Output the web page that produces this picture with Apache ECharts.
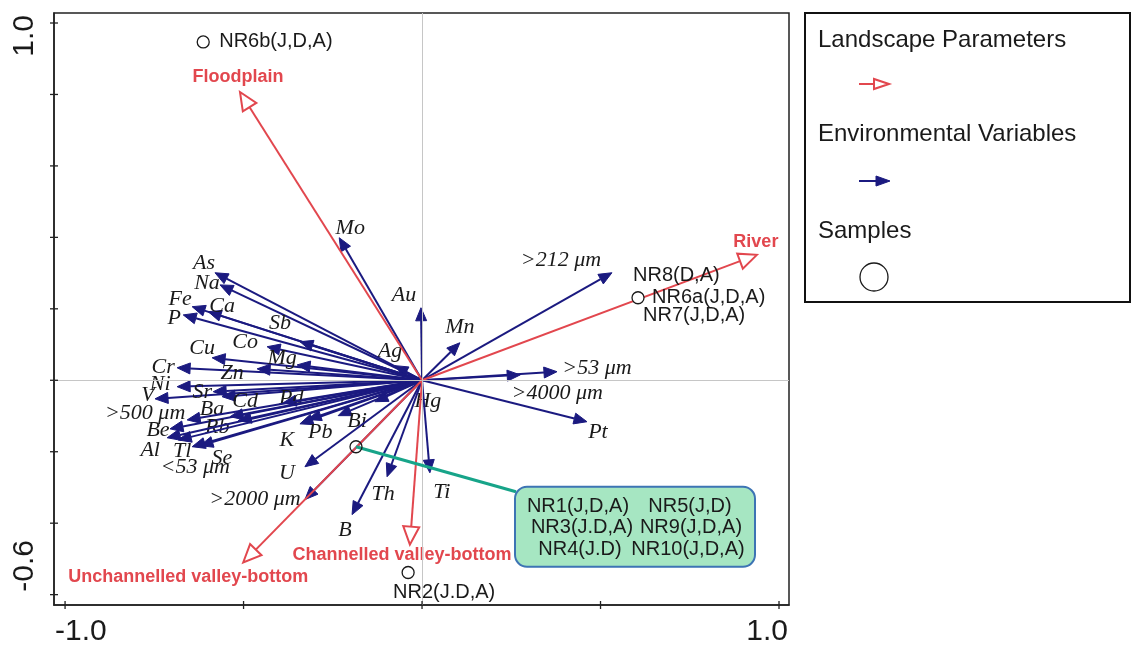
<!DOCTYPE html>
<html>
<head>
<meta charset="utf-8">
<script src="https://cdn.jsdelivr.net/npm/echarts@6/dist/echarts.min.js"></script>
<style>
  html, body { margin: 0; padding: 0; background: #fff; }
  #chart { width: 1133px; height: 647px; }
</style>
</head>
<body>
<div id="chart"></div>
<script>
// Landscape parameters (hollow red arrows)
const landNames = ['Floodplain', 'River', 'Unchannelled valley-bottom', 'Channelled valley-bottom'];
const landX = [-0.510, 0.938, -0.501, -0.034];
const landY = [0.807, 0.351, -0.510, -0.460];

// Environmental variables (filled blue arrows)
const envNames = ['Mo', 'Au', 'Ag', 'Hg', 'Mn', '>212 \u03bcm', '>53 \u03bcm', '>4000 \u03bcm', 'Pt',
  'As', 'Na', 'Fe', 'Ca', 'P', 'Sb', 'Cu', 'Co', 'Mg', 'Cr', 'Zn', 'Ni', 'V', 'Sr', 'Cd', 'Pd',
  'Ba', '>500 \u03bcm', 'Be', 'Rb', 'Al', 'Tl', 'Se', '<53 \u03bcm', 'K', 'Pb', 'Bi', 'U',
  '>2000 \u03bcm', 'Th', 'B', 'Ti'];
const envX = [-0.232, -0.003, -0.076, -0.132, 0.106, 0.532, 0.378, 0.275, 0.462,
  -0.580, -0.566, -0.644, -0.599, -0.669, -0.342, -0.588, -0.434, -0.350, -0.686, -0.462, -0.686, -0.748, -0.585, -0.560, -0.389,
  -0.538, -0.658, -0.706, -0.515, -0.714, -0.644, -0.622, -0.683, -0.342, -0.319, -0.235, -0.328,
  -0.328, -0.098, -0.196, 0.022];
const envY = [0.399, 0.203, 0.041, -0.060, 0.105, 0.301, 0.024, 0.015, -0.116,
  0.301, 0.267, 0.206, 0.192, 0.183, 0.108, 0.063, 0.094, 0.043, 0.035, 0.032, -0.018, -0.052, -0.032, -0.046, -0.063,
  -0.102, -0.111, -0.136, -0.113, -0.161, -0.186, -0.183, -0.167, -0.122, -0.110, -0.099, -0.242,
  -0.334, -0.270, -0.376, -0.259];

// Samples (open circles)
const sampleNames = ['NR6b', 'NR6a', 'NR2', 'NR1'];
const sampleX = [-0.613, 0.605, -0.039, -0.185];
const sampleY = [0.947, 0.231, -0.538, -0.186];
const sampleText = [
  ['NR6b(J,D,A)'],
  ['NR8(D,A)', 'NR6a(J,D,A)', 'NR7(J,D,A)'],
  ['NR2(J.D,A)'],
  ['NR1(J,D,A)', 'NR5(J,D)', 'NR3(J.D,A)', 'NR9(J,D,A)', 'NR4(J.D)', 'NR10(J,D,A)']
];

// Axis ticks and labelled ticks
const xTicks = [-1.0, -0.5, 0, 0.5, 1.0];
const yTicks = [-0.6, -0.4, -0.2, 0, 0.2, 0.4, 0.6, 0.8, 1.0];
const xTickLabels = ['-1.0', '1.0'];
const xTickLabelValues = [-1.0, 1.0];
const yTickLabels = ['1.0', '-0.6'];
const yTickLabelValues = [1.0, -0.6];

const X_MIN = -1.031, X_MAX = 1.028, Y_MIN = -0.629, Y_MAX = 1.028;

// ---- layout: label offsets in pixels from arrow tips ----
const landLabelOff = [[-2, -15], [-1, -13], [-55, 15], [-8, 10]];
const envLabelOff = [[11, -10], [-17, -13], [-5, -14], [53, 0], [0, -16], [-51, -13], [40, -3], [37, 18], [11, 10],
  [-11, -10], [-13, -2], [-12, -7], [14, -5], [-9, 3], [-20, -18], [-10, -10], [-22, -4], [-15, -7], [-14, -1], [-25, 4], [-17, -2], [-7, -4], [-11, 1], [23, 5], [8, -5],
  [-18, -7], [-42, -7], [-12, 1], [-21, 7], [-17, 12], [-10, 4], [22, 13], [17, 27], [-13, 16], [12, 13], [19, 6], [-18, 6],
  [-50, 0], [-4, 17], [-7, 16], [12, 19]];
// sample text lines: [dx, dy, align] per line
const sampleTextPos = [
  [[16, 0, 'left']],
  [[-5, -22, 'left'], [14, 0, 'left'], [5, 18, 'left']],
  [[36, 20, 'center']],
  [[222, 60, 'center'], [334, 60, 'center'], [226, 81, 'center'], [335, 81, 'center'], [224, 103, 'center'], [332, 103, 'center']]
];
const calloutBox = { dx: 159, dy: 40, w: 240, h: 80 };

const RED = '#e2474e';
const BLUE = '#1b1a80';
const INK = '#1a1a1a';
const serifItalic = 'italic 22px "Liberation Serif", "DejaVu Serif", serif';

function arrowRenderer(color, headLen, headHalf, hollow, labels, offsets, labelFont) {
  return function (params, api) {
    const p0 = api.coord([0, 0]);
    const p1 = api.coord([api.value(0), api.value(1)]);
    const dx = p1[0] - p0[0], dy = p1[1] - p0[1];
    const len = Math.hypot(dx, dy) || 1;
    const ux = dx / len, uy = dy / len;
    const bx = p1[0] - ux * headLen, by = p1[1] - uy * headLen;
    const head = [
      [p1[0], p1[1]],
      [bx - uy * headHalf, by + ux * headHalf],
      [bx + uy * headHalf, by - ux * headHalf]
    ];
    const off = offsets[params.dataIndex];
    return {
      type: 'group',
      children: [
        { type: 'line', shape: { x1: p0[0], y1: p0[1], x2: bx, y2: by },
          style: { stroke: color, lineWidth: 2 } },
        { type: 'polygon', shape: { points: head },
          style: { fill: hollow ? '#fff' : color, stroke: color, lineWidth: hollow ? 2 : 1, lineJoin: 'miter' } },
        { type: 'text', x: p1[0] + off[0], y: p1[1] + off[1],
          style: { text: labels[params.dataIndex], font: labelFont, fill: hollow ? RED : INK,
                   textAlign: 'center', textVerticalAlign: 'middle' } }
      ]
    };
  };
}

function sampleRenderer(params, api) {
  const i = params.dataIndex;
  const p = api.coord([api.value(0), api.value(1)]);
  const children = [];
  if (i === 3) {
    const b = calloutBox;
    children.push({ type: 'line', shape: { x1: p[0], y1: p[1], x2: p[0] + b.dx + 1, y2: p[1] + b.dy + 5 },
      style: { stroke: '#17a489', lineWidth: 3 } });
    children.push({ type: 'rect', shape: { x: p[0] + b.dx, y: p[1] + b.dy, width: b.w, height: b.h, r: 12 },
      style: { fill: '#a6e6c2', stroke: '#3d74b4', lineWidth: 2 } });
  }
  children.push({ type: 'circle', shape: { cx: p[0], cy: p[1], r: 6 },
    style: { fill: i === 3 ? 'transparent' : '#fff', stroke: INK, lineWidth: 1.3 } });
  sampleText[i].forEach(function (t, k) {
    const pos = sampleTextPos[i][k];
    children.push({ type: 'text', x: p[0] + pos[0], y: p[1] + pos[1],
      style: { text: t, font: '20px "Liberation Sans", Arial, sans-serif',
               fill: INK, textAlign: pos[2], textVerticalAlign: 'middle' } });
  });
  return { type: 'group', children: children };
}

// Tick marks crossing the left and bottom frame lines
function tickRenderer(params, api) {
  const p = api.coord([api.value(0), api.value(1)]);
  const vertical = api.value(2) === 0;
  return {
    type: 'line',
    shape: vertical ? { x1: p[0], y1: p[1] - 4, x2: p[0], y2: p[1] + 4 }
                    : { x1: p[0] - 4, y1: p[1], x2: p[0] + 4, y2: p[1] },
    style: { stroke: '#222', lineWidth: 1.3 }
  };
}

const chart = echarts.init(document.getElementById('chart'), null, { renderer: 'canvas' });

chart.setOption({
  animation: false,
  backgroundColor: '#fff',
  grid: { left: 54, right: 344, top: 13, bottom: 42, show: true, borderColor: '#222', borderWidth: 1.5, backgroundColor: 'transparent' },
  xAxis: {
    type: 'value', min: X_MIN, max: X_MAX,
    splitLine: { show: false }, axisLabel: { show: false }, axisTick: { show: false },
    axisLine: { show: true, onZero: false, lineStyle: { color: '#222', width: 1.5 } }
  },
  yAxis: {
    type: 'value', min: Y_MIN, max: Y_MAX,
    splitLine: { show: false }, axisLabel: { show: false }, axisTick: { show: false },
    axisLine: { show: true, onZero: false, lineStyle: { color: '#222', width: 1.5 } }
  },
  series: [
    {
      type: 'line', data: [], silent: true,
      markLine: {
        silent: true, symbol: 'none', label: { show: false },
        lineStyle: { color: '#c6c6c6', width: 1, type: 'solid' },
        data: [{ xAxis: 0 }, { yAxis: 0 }]
      }
    },
    {
      type: 'custom', silent: true, z: 6, clip: false,
      renderItem: tickRenderer,
      data: xTicks.map(function (v) { return [v, Y_MIN, 0]; })
        .concat(yTicks.map(function (v) { return [X_MIN, v, 1]; }))
    },
    {
      name: 'Environmental Variables', type: 'custom', z: 3,
      renderItem: arrowRenderer(BLUE, 13, 5.5, false, envNames, envLabelOff, serifItalic),
      data: envX.map(function (x, i) { return [x, envY[i]]; })
    },
    {
      name: 'Landscape Parameters', type: 'custom', z: 4,
      renderItem: arrowRenderer(RED, 18, 8, true, landNames, landLabelOff, 'bold 18px "Liberation Sans", Arial, sans-serif'),
      data: landX.map(function (x, i) { return [x, landY[i]]; })
    },
    {
      name: 'Samples', type: 'custom', z: 5,
      renderItem: sampleRenderer,
      data: sampleX.map(function (x, i) { return [x, sampleY[i]]; })
    }
  ]
});

// Tick labels and the legend panel
const tickFont = '30px "Liberation Sans", Arial, sans-serif';
const graphics = [];
xTickLabelValues.forEach(function (v, i) {
  const px = chart.convertToPixel({ xAxisIndex: 0 }, v);
  graphics.push({ type: 'text', x: px + (v < 0 ? -10 : 9), y: 632,
    style: { text: xTickLabels[i], font: tickFont, fill: INK, textAlign: v < 0 ? 'left' : 'right', textVerticalAlign: 'middle' } });
});
yTickLabelValues.forEach(function (v, i) {
  const py = chart.convertToPixel({ yAxisIndex: 0 }, v);
  graphics.push({ type: 'text', x: 25, y: py + (v > 0 ? -8 : -3), rotation: Math.PI / 2,
    style: { text: yTickLabels[i], font: tickFont, fill: INK, textAlign: v > 0 ? 'right' : 'left', textVerticalAlign: 'middle' } });
});

const legendFont = '24px "Liberation Sans", Arial, sans-serif';
graphics.push(
  { type: 'rect', shape: { x: 805, y: 13, width: 325, height: 289 }, style: { fill: '#fff', stroke: '#111', lineWidth: 2 } },
  { type: 'text', x: 818, y: 40, style: { text: 'Landscape Parameters', font: legendFont, fill: INK, textVerticalAlign: 'middle' } },
  { type: 'line', shape: { x1: 859, y1: 84, x2: 874, y2: 84 }, style: { stroke: RED, lineWidth: 2 } },
  { type: 'polygon', shape: { points: [[889, 84], [874, 79], [874, 89]] }, style: { fill: '#fff', stroke: RED, lineWidth: 2 } },
  { type: 'text', x: 818, y: 134, style: { text: 'Environmental Variables', font: legendFont, fill: INK, textVerticalAlign: 'middle' } },
  { type: 'line', shape: { x1: 859, y1: 181, x2: 877, y2: 181 }, style: { stroke: BLUE, lineWidth: 2 } },
  { type: 'polygon', shape: { points: [[890, 181], [876, 176], [876, 186]] }, style: { fill: BLUE, stroke: BLUE, lineWidth: 1 } },
  { type: 'text', x: 818, y: 231, style: { text: 'Samples', font: legendFont, fill: INK, textVerticalAlign: 'middle' } },
  { type: 'circle', shape: { cx: 874, cy: 277, r: 14 }, style: { fill: '#fff', stroke: INK, lineWidth: 1.3 } }
);
chart.setOption({ graphic: graphics });
</script>
</body>
</html>
